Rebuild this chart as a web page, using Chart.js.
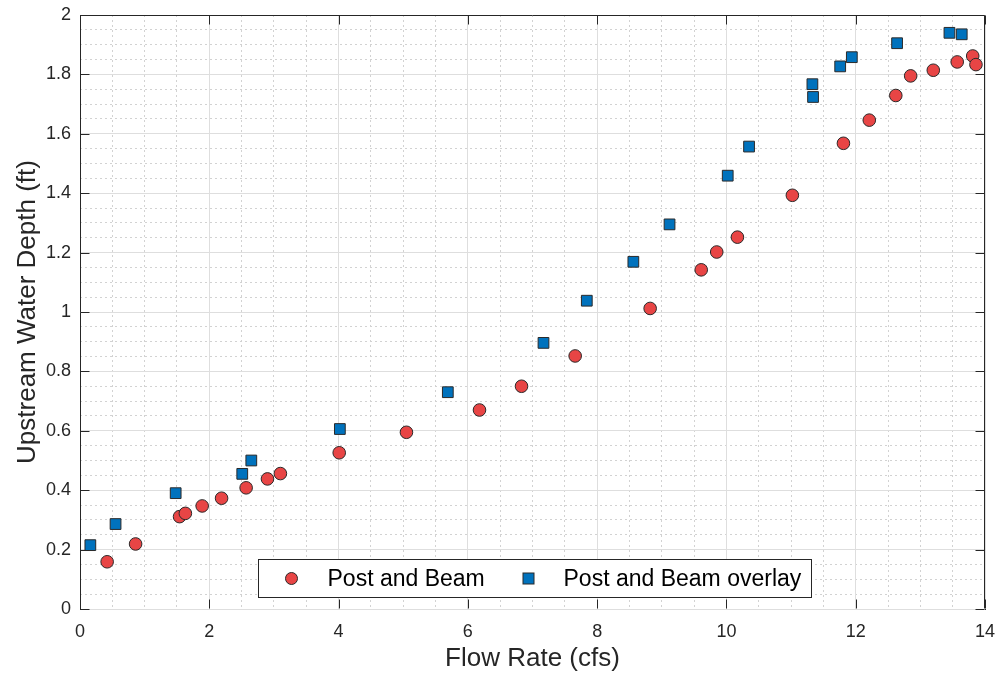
<!DOCTYPE html>
<html>
<head>
<meta charset="utf-8">
<title>Upstream Water Depth vs Flow Rate</title>
<script src="https://cdn.jsdelivr.net/npm/chart.js@4.4.1/dist/chart.umd.min.js"></script>
<style>
  html, body { margin: 0; padding: 0; background: #fff; }
  #wrap { width: 1000px; height: 681px; }
</style>
</head>
<body>
<div id="wrap"><canvas id="myChart" width="1000" height="681"></canvas></div>
<script>
// Post and Beam (red circles)
const postBeamFlow = [0.42, 0.86, 1.54, 1.63, 1.89, 2.19, 2.57, 2.90, 3.10, 4.01,
  5.05, 6.18, 6.83, 7.66, 8.82, 9.61, 9.85, 10.17, 11.02,
  11.81, 12.21, 12.62, 12.85, 13.20, 13.57, 13.81, 13.86];
const postBeamDepth = [0.159, 0.219, 0.311, 0.322, 0.347, 0.373, 0.408, 0.438, 0.456, 0.526,
  0.595, 0.670, 0.750, 0.852, 1.012, 1.142, 1.202, 1.252, 1.393,
  1.568, 1.646, 1.729, 1.795, 1.814, 1.842, 1.862, 1.833];

// Post and Beam overlay (blue squares)
const overlayFlow = [0.16, 0.55, 1.48, 2.51, 2.65, 4.02,
  5.69, 7.17, 7.84, 8.56, 9.12, 10.02, 10.35,
  11.33, 11.34, 11.76, 11.94, 12.64, 13.45, 13.64];
const overlayDepth = [0.215, 0.286, 0.390, 0.455, 0.500, 0.606,
  0.730, 0.896, 1.038, 1.169, 1.295, 1.459, 1.557,
  1.767, 1.724, 1.827, 1.858, 1.905, 1.940, 1.935];

const xTicks = [0, 2, 4, 6, 8, 10, 12, 14];
const yTicks = [0, 0.2, 0.4, 0.6, 0.8, 1, 1.2, 1.4, 1.6, 1.8, 2];
const seriesNames = ["Post and Beam", "Post and Beam overlay"];

const RED = "#E84545";
const BLUE = "#0072BD";
const EDGE = "#2a2a2a";
const AXIS = "#262626";
const FONT = "'Liberation Sans', Arial, Helvetica, sans-serif";

const toPoints = (xs, ys) => xs.map((x, i) => ({ x: x, y: ys[i] }));

// minor grid lines: dotted, skip the ones that sit on a major tick
const isMajor = (v, step) => Math.abs(v / step - Math.round(v / step)) < 1e-6;
const minorTicks = (max, step) => {
  const out = [];
  for (let i = 0; i * step <= max + 1e-9; i++) out.push({ value: +(i * step).toFixed(4) });
  return out;
};

// box around the axes with inward tick marks (matlab style)
const boxFrame = {
  id: "boxFrame",
  afterDatasetsDraw(chart) {
    const { ctx, chartArea: a, scales } = chart;
    const L = Math.round(a.left) + 0.5, R = Math.round(a.right) - 0.5;
    const T = Math.round(a.top) + 0.5, B = Math.round(a.bottom) - 0.5;
    ctx.save();
    ctx.strokeStyle = AXIS;
    ctx.lineWidth = 1;
    ctx.beginPath();
    ctx.moveTo(L, T); ctx.lineTo(R, T); ctx.lineTo(R, B);
    xTicks.forEach((v) => {
      const px = Math.round(scales.x.getPixelForValue(v)) + 0.5;
      ctx.moveTo(px, B); ctx.lineTo(px, B - 9);
      ctx.moveTo(px, T); ctx.lineTo(px, T + 9);
    });
    yTicks.forEach((v) => {
      const py = Math.round(scales.y.getPixelForValue(v)) + 0.5;
      ctx.moveTo(L, py); ctx.lineTo(L + 9, py);
      ctx.moveTo(R, py); ctx.lineTo(R - 9, py);
    });
    ctx.stroke();
    ctx.restore();
  },
};

// legend drawn inside the plot, bottom centre
const insideLegend = {
  id: "insideLegend",
  afterDraw(chart) {
    const { ctx, chartArea: a } = chart;
    const w = 553, h = 38;
    const x = Math.round((a.left + a.right) / 2 - w / 2 + 2) + 0.5;
    const y = Math.round(a.bottom - 12 - h) + 0.5;
    ctx.save();
    ctx.fillStyle = "#fff";
    ctx.fillRect(x, y, w, h);
    ctx.strokeStyle = AXIS;
    ctx.lineWidth = 1;
    ctx.strokeRect(x, y, w, h);
    const cy = y + h / 2;

    ctx.fillStyle = RED;
    ctx.strokeStyle = EDGE;
    ctx.beginPath();
    ctx.arc(x + 33, cy, 6, 0, Math.PI * 2);
    ctx.fill(); ctx.stroke();

    ctx.fillStyle = BLUE;
    ctx.fillRect(x + 264.5, cy - 5.5, 11, 11);
    ctx.strokeRect(x + 264.5, cy - 5.5, 11, 11);

    ctx.fillStyle = "#000";
    ctx.font = "23px " + FONT;
    ctx.textBaseline = "middle";
    ctx.fillText(seriesNames[0], x + 69, cy + 1);
    ctx.fillText(seriesNames[1], x + 305, cy + 1);
    ctx.restore();
  },
};

const ctx = document.getElementById("myChart");
new Chart(ctx, {
  type: "scatter",
  data: {
    datasets: [
      {
        label: seriesNames[1],
        data: toPoints(overlayFlow, overlayDepth),
        pointStyle: "rect",
        pointRadius: 7.6,
        backgroundColor: BLUE,
        borderColor: EDGE,
        borderWidth: 1,
      },
      {
        label: seriesNames[0],
        data: toPoints(postBeamFlow, postBeamDepth),
        pointStyle: "circle",
        pointRadius: 6.3,
        backgroundColor: RED,
        borderColor: EDGE,
        borderWidth: 1,
      },
    ],
  },
  options: {
    responsive: false,
    animation: false,
    devicePixelRatio: 1,
    layout: { padding: { top: 15, right: 15, left: 0, bottom: 0 } },
    plugins: {
      legend: { display: false },
      tooltip: { enabled: false },
    },
    scales: {
      x: {
        type: "linear",
        position: "bottom",
        min: 0,
        max: 14,
        afterBuildTicks: (scale) => { scale.ticks = xTicks.map((v) => ({ value: v })); },
        afterFit: (scale) => {
          scale.height = 72;
          scale.paddingLeft = 0;
          scale.paddingRight = 0;
        },
        ticks: {
          color: AXIS,
          padding: 12,
          font: { family: FONT, size: 18 },
          callback: (v) => String(v),
        },
        grid: { color: "#dedede", drawTicks: false, z: 0 },
        border: { color: AXIS, width: 1 },
        title: {
          display: true,
          text: "Flow Rate (cfs)",
          color: AXIS,
          font: { family: FONT, size: 26 },
          padding: { top: 0, bottom: 7 },
        },
      },
      xMinor: {
        type: "linear",
        position: "bottom",
        min: 0,
        max: 14,
        afterBuildTicks: (scale) => { scale.ticks = minorTicks(14, 0.5); },
        afterFit: (scale) => {
          scale.height = 0;
          scale.paddingLeft = 0;
          scale.paddingRight = 0;
        },
        ticks: { display: false },
        grid: {
          drawTicks: false,
          z: -1,
          color: (c) => (c.tick && isMajor(c.tick.value, 2) ? "rgba(0,0,0,0)" : "#d2d2d2"),
        },
        border: { display: false, dash: [2, 3] },
      },
      y: {
        type: "linear",
        position: "left",
        min: 0,
        max: 2,
        afterBuildTicks: (scale) => { scale.ticks = yTicks.map((v) => ({ value: v })); },
        afterFit: (scale) => {
          scale.width = 80;
          scale.paddingTop = 0;
          scale.paddingBottom = 0;
        },
        ticks: {
          color: AXIS,
          padding: 9,
          font: { family: FONT, size: 18 },
          callback: (v) => String(v),
        },
        grid: { color: "#dedede", drawTicks: false, z: 0 },
        border: { color: AXIS, width: 1 },
        title: {
          display: true,
          text: "Upstream Water Depth (ft)",
          color: AXIS,
          font: { family: FONT, size: 26 },
          padding: { top: 12, bottom: 0 },
        },
      },
      yMinor: {
        type: "linear",
        position: "left",
        min: 0,
        max: 2,
        afterBuildTicks: (scale) => { scale.ticks = minorTicks(2, 0.05); },
        afterFit: (scale) => {
          scale.width = 0;
          scale.paddingTop = 0;
          scale.paddingBottom = 0;
        },
        ticks: { display: false },
        grid: {
          drawTicks: false,
          z: -1,
          color: (c) => (c.tick && isMajor(c.tick.value, 0.2) ? "rgba(0,0,0,0)" : "#d2d2d2"),
        },
        border: { display: false, dash: [2, 3] },
      },
    },
  },
  plugins: [boxFrame, insideLegend],
});
</script>
</body>
</html>
